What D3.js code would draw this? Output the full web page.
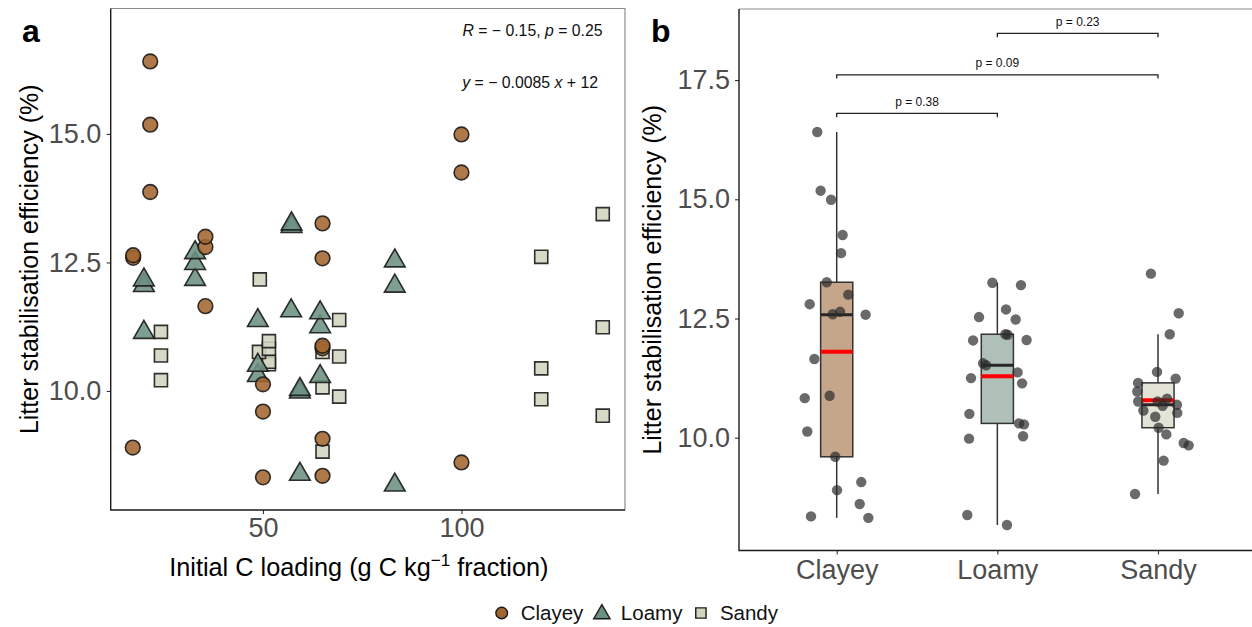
<!DOCTYPE html>
<html><head><meta charset="utf-8">
<script src="https://cdn.jsdelivr.net/npm/d3@7"></script>
<style>
body{margin:0;background:#fff;}
svg{display:block;font-family:"Liberation Sans",Arial,Helvetica,sans-serif;}
</style>
</head><body>
<svg id="chart" width="1252" height="627"></svg>
<script>
// ---------------- DATA ----------------
const categories = ["Clayey", "Loamy", "Sandy"];

// each category sorted by efficiency; jitter = horizontal offset in panel b (fraction of category spacing)
const clayeyLoading    = [50, 65, 100, 17.2, 65, 50, 50, 65, 65, 35.5, 65, 17.3, 17.3, 35.5, 35.5, 65, 21.6, 100, 100, 21.6, 21.6];
const clayeyEfficiency = [8.32, 8.35, 8.61, 8.90, 9.07, 9.60, 10.13, 10.83, 10.88, 11.65, 12.58, 12.59, 12.64, 12.80, 13.00, 13.26, 13.87, 14.25, 14.99, 15.18, 16.41];
const clayeyJitter     = [0.197, -0.160, 0.143, 0.002, 0.153, -0.009, -0.183, -0.199, -0.044, -0.139, 0.180, -0.025, 0.021, -0.168, 0.072, -0.062, 0.027, 0.037, -0.035, -0.100, -0.121];

const loamyLoading     = [83.2, 59.3, 59.3, 59.3, 64.4, 48.7, 48.7, 20, 64.4, 48.7, 64.4, 57.1, 83.2, 20, 20, 32.9, 32.9, 83.2, 32.9, 57.2, 57.2];
const loamyEfficiency  = [8.17, 8.38, 9.98, 10.03, 10.28, 10.30, 10.50, 11.14, 11.25, 11.37, 11.52, 11.56, 12.04, 12.05, 12.16, 12.17, 12.48, 12.53, 12.69, 13.20, 13.25];
const loamyJitter      = [0.060, -0.187, -0.176, 0.160, 0.166, 0.135, -0.174, 0.154, -0.164, 0.126, -0.070, -0.089, -0.151, 0.182, 0.064, 0.050, 0.114, -0.114, 0.054, 0.147, -0.031];

const sandyLoading     = [65, 135.6, 120.1, 69.2, 65, 24.3, 120.1, 51.5, 51.5, 69.2, 24.3, 49, 65, 51.5, 51.5, 24.3, 135.6, 69.2, 49.2, 120.1, 135.6];
const sandyEfficiency  = [8.82, 9.52, 9.84, 9.89, 10.07, 10.21, 10.44, 10.52, 10.57, 10.67, 10.69, 10.76, 10.76, 10.82, 10.97, 11.15, 11.24, 11.38, 12.17, 12.61, 13.44];
const sandyJitter      = [-0.143, 0.035, 0.191, 0.160, 0.052, 0.004, -0.017, 0.120, -0.091, 0.029, 0.118, -0.123, -0.002, 0.056, -0.129, -0.124, 0.110, -0.006, 0.073, 0.129, -0.044];

const xTicksA = [50, 100];
const yTicksA = [10.0, 12.5, 15.0];
const yTicksB = [10.0, 12.5, 15.0, 17.5];

const corrText = {R: "− 0.15", p: "0.25"};
const eqParts = {slope: "− 0.0085", intercept: "12"};

const comparisons = [
  {from: "Clayey", to: "Loamy", label: "p = 0.38", level: 16.80},
  {from: "Clayey", to: "Sandy", label: "p = 0.09", level: 17.61},
  {from: "Loamy",  to: "Sandy", label: "p = 0.23", level: 18.48}
];

// ---------------- STYLE ----------------
const fillA = {Clayey: "#A3652F", Loamy: "#6C9181", Sandy: "#D3D5C0"};
const fillB = {Clayey: "#C5A68B", Loamy: "#AFC0B8", Sandy: "#E3E4D7"};
const shapes = {Clayey: d3.symbolCircle, Loamy: d3.symbolTriangle, Sandy: d3.symbolSquare};

const groups = {
  Clayey: {x: clayeyLoading, y: clayeyEfficiency, j: clayeyJitter},
  Loamy:  {x: loamyLoading,  y: loamyEfficiency,  j: loamyJitter},
  Sandy:  {x: sandyLoading,  y: sandyEfficiency,  j: sandyJitter}
};

const svg = d3.select("#chart");
svg.append("rect").attr("width", 1252).attr("height", 627).attr("fill", "#fff");

const tickColor = "#4d4d4d";
const tickFont = 27;

// ================= PANEL A =================
const A = {l: 110.7, r: 625, t: 8.5, b: 510};
const xA = d3.scaleLinear().domain([11.64, 141.2]).range([A.l, A.r]);
const yA = d3.scaleLinear().domain([7.685, 17.44]).range([A.b, A.t]);
const gA = svg.append("g");

gA.append("path").attr("d", `M${A.l},${A.t}H${A.r}V${A.b}`).attr("fill", "none").attr("stroke", "#8c8c8c").attr("stroke-width", 1.2);

function styleAxis(g) {
  g.select(".domain").remove();
  g.selectAll(".tick line").attr("stroke", "#333").attr("stroke-width", 1.1);
  g.selectAll(".tick text").attr("fill", tickColor).attr("font-size", tickFont).attr("font-family", "Liberation Sans, Arial, sans-serif");
}

gA.append("g").attr("transform", `translate(${A.l},0)`)
  .call(d3.axisLeft(yA).tickValues(yTicksA).tickFormat(d3.format(".1f")).tickSize(4).tickPadding(5.5))
  .call(styleAxis);
gA.append("g").attr("transform", `translate(0,${A.b})`)
  .call(d3.axisBottom(xA).tickValues(xTicksA).tickFormat(d3.format("d")).tickSize(4).tickPadding(4))
  .call(styleAxis);
gA.append("path").attr("d", `M${A.l},${A.t}V${A.b}H${A.r}`).attr("fill", "none").attr("stroke", "#1a1a1a").attr("stroke-width", 1.4);

["Sandy", "Loamy", "Clayey"].forEach(cat => {
  const g = groups[cat];
  const size = cat === "Loamy" ? 185 : 170;
  gA.append("g").selectAll("path").data(g.y.map((v, i) => ({x: g.x[i], y: v})))
    .join("path")
    .attr("d", d3.symbol().type(shapes[cat]).size(size))
    .attr("transform", d => `translate(${xA(d.x)},${yA(d.y)})`)
    .attr("fill", fillA[cat]).attr("fill-opacity", 0.88)
    .attr("stroke", "#1a1a1a").attr("stroke-width", 1.6).attr("stroke-opacity", 0.9);
});

// annotations
const annA = gA.append("g").attr("font-size", 15.8).attr("fill", "#111").attr("text-anchor", "end");
const t1 = annA.append("text").attr("x", 602.5).attr("y", 36);
t1.append("tspan").attr("font-style", "italic").text("R");
t1.append("tspan").text(" = " + corrText.R + ", ");
t1.append("tspan").attr("font-style", "italic").text("p");
t1.append("tspan").text(" = " + corrText.p);
const t2 = annA.append("text").attr("x", 598).attr("y", 88);
t2.append("tspan").attr("font-style", "italic").text("y");
t2.append("tspan").text(" = " + eqParts.slope + " ");
t2.append("tspan").attr("font-style", "italic").text("x");
t2.append("tspan").text(" + " + eqParts.intercept);

// axis titles
gA.append("text").attr("transform", `translate(${(A.l + A.r) / 2 - 9},576)`).attr("text-anchor", "middle")
  .attr("font-size", 25.3).attr("fill", "#000")
  .call(t => {
    t.append("tspan").text("Initial C loading (g C kg");
    t.append("tspan").attr("font-size", 17).attr("dy", -10).text("−1");
    t.append("tspan").attr("dy", 10).text(" fraction)");
  });
gA.append("text").attr("transform", `translate(38,${(A.t + A.b) / 2}) rotate(-90)`).attr("text-anchor", "middle")
  .attr("font-size", 25).attr("fill", "#000").text("Litter stabilisation efficiency (%)");

svg.append("text").attr("x", 22).attr("y", 42).attr("font-size", 32).attr("font-weight", "bold").text("a");

// ================= PANEL B =================
const B = {l: 739, r: 1252, t: 9, b: 550.5};
const xB = d3.scalePoint().domain(categories).range([836.7, 1158]);
const step = xB(categories[1]) - xB(categories[0]);
const yB = d3.scaleLinear().domain([7.635, 18.99]).range([B.b, B.t]);
const gB = svg.append("g");

gB.append("path").attr("d", `M${B.l},${B.t}H${B.r}`).attr("stroke", "#8c8c8c").attr("stroke-width", 1.2);

gB.append("g").attr("transform", `translate(${B.l},0)`)
  .call(d3.axisLeft(yB).tickValues(yTicksB).tickFormat(d3.format(".1f")).tickSize(4).tickPadding(5))
  .call(styleAxis);
gB.append("g").attr("transform", `translate(0,${B.b})`)
  .call(d3.axisBottom(xB).tickSize(4).tickPadding(5))
  .call(styleAxis);
gB.append("path").attr("d", `M${B.l},${B.t}V${B.b}H${B.r}`).attr("fill", "none").attr("stroke", "#1a1a1a").attr("stroke-width", 1.4);

const boxW = 0.2 * step;
categories.forEach(cat => {
  const vals = groups[cat].y.slice().sort(d3.ascending);
  const q1 = d3.quantile(vals, 0.25), med = d3.quantile(vals, 0.5), q3 = d3.quantile(vals, 0.75);
  const iqr = q3 - q1;
  const lo = d3.min(vals.filter(v => v >= q1 - 1.5 * iqr));
  const hi = d3.max(vals.filter(v => v <= q3 + 1.5 * iqr));
  const mean = d3.mean(vals);
  const cx = xB(cat);
  const g = gB.append("g");
  g.append("line").attr("x1", cx).attr("x2", cx).attr("y1", yB(hi)).attr("y2", yB(q3)).attr("stroke", "#333").attr("stroke-width", 1.5);
  g.append("line").attr("x1", cx).attr("x2", cx).attr("y1", yB(q1)).attr("y2", yB(lo)).attr("stroke", "#333").attr("stroke-width", 1.5);
  g.append("rect").attr("x", cx - boxW / 2).attr("width", boxW).attr("y", yB(q3)).attr("height", yB(q1) - yB(q3))
    .attr("fill", fillB[cat]).attr("stroke", "#333").attr("stroke-width", 1.5);
  g.append("line").attr("x1", cx - boxW / 2).attr("x2", cx + boxW / 2).attr("y1", yB(med)).attr("y2", yB(med)).attr("stroke", "#262626").attr("stroke-width", 3);
  g.append("line").attr("x1", cx - boxW / 2).attr("x2", cx + boxW / 2).attr("y1", yB(mean)).attr("y2", yB(mean)).attr("stroke", "#ff0000").attr("stroke-width", 4);
});
categories.forEach(cat => {
  const g = groups[cat];
  gB.append("g").selectAll("circle").data(g.y.map((v, i) => ({y: v, j: g.j[i]})))
    .join("circle")
    .attr("cx", d => xB(cat) + d.j * step).attr("cy", d => yB(d.y)).attr("r", 5.2)
    .attr("fill", "#2b2b2b").attr("fill-opacity", 0.7);
});

// significance brackets
const tip = 0.08;
comparisons.forEach(c => {
  const x1 = xB(c.from), x2 = xB(c.to), yy = yB(c.level), yt = yB(c.level - tip);
  gB.append("path").attr("d", `M${x1},${yt}V${yy}H${x2}V${yt}`).attr("fill", "none").attr("stroke", "#222").attr("stroke-width", 1.3);
  gB.append("text").attr("x", (x1 + x2) / 2).attr("y", yy - 7.5).attr("text-anchor", "middle")
    .attr("font-size", 12).attr("fill", "#111").text(c.label);
});

gB.append("text").attr("transform", `translate(661,${(B.t + B.b) / 2}) rotate(-90)`).attr("text-anchor", "middle")
  .attr("font-size", 25).attr("fill", "#000").text("Litter stabilisation efficiency (%)");
svg.append("text").attr("x", 651).attr("y", 42).attr("font-size", 32).attr("font-weight", "bold").text("b");

// ================= LEGEND =================
const leg = svg.append("g").attr("font-size", 20.5);
let lx = 501.7;
const ly = 613;
categories.forEach(cat => {
  const size = cat === "Loamy" ? 115 : 106;
  const dy = cat === "Loamy" ? 1 : 0;
  leg.append("path").attr("d", d3.symbol().type(shapes[cat]).size(size))
    .attr("transform", `translate(${lx},${ly + dy})`)
    .attr("fill", fillA[cat]).attr("stroke", "#1a1a1a").attr("stroke-width", 1.4);
  const t = leg.append("text").attr("x", lx + 19).attr("y", ly + 7.3).attr("fill", "#111").text(cat);
  const w = t.node().getComputedTextLength();
  lx = lx + 19 + w + 18.5;
});
</script>
</body></html>
